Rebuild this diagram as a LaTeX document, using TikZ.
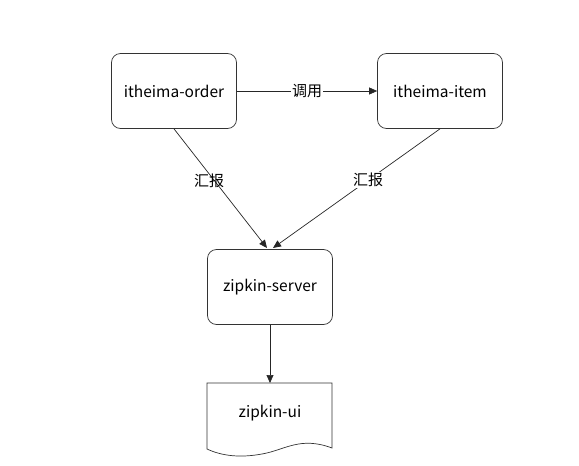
\documentclass[tikz,border=0pt]{standalone}
\usepackage{fontspec}
\setmainfont{Noto Sans CJK SC}
\usetikzlibrary{arrows.meta}
\begin{document}
\begin{tikzpicture}[x=1pt,y=-1pt,
  box/.style={draw=black!80,rounded corners=9pt,minimum width=125pt,minimum height=75pt,inner sep=0pt,font=\fontsize{15.5}{17}\selectfont,line width=0.7pt},
  conn/.style={draw=black!85,line width=0.7pt,-{Triangle[length=8pt,width=7pt]}},
  lbl/.style={font=\fontsize{15}{17}\selectfont,inner sep=1pt}]
\useasboundingbox (0,0) rectangle (579,466);
\node[box] (order) at (174,91) {itheima-order};
\node[box] (item) at (440,91) {itheima-item};
\node[box] (server) at (270,287) {zipkin-server};
% document shape
\coordinate (ui) at (270,383);
\draw[draw=black!80,line width=0.7pt,fill=white] (207,383) -- (332,383) -- (332,448)
  .. controls (300,436) and (285,450) .. (262,454)
  .. controls (240,458) and (222,456) .. (207,449) -- cycle;
\node[font=\fontsize{15.5}{17}\selectfont] (uitext) at (270,413) {zipkin-ui};
\draw[conn] (order.east) -- node[lbl,fill=white] {调用} (item.west);
\coordinate (s1) at (267,248);
\coordinate (s2) at (273,248);
\draw[conn] (order.south) -- (s1);
\draw[conn] (item.south) -- node[lbl,fill=white,pos=0.43] {汇报} (s2);
\node[lbl] (l1) at (209,181) {汇报};
\draw[conn] (server.south) -- (ui);
\end{tikzpicture}
\end{document}
